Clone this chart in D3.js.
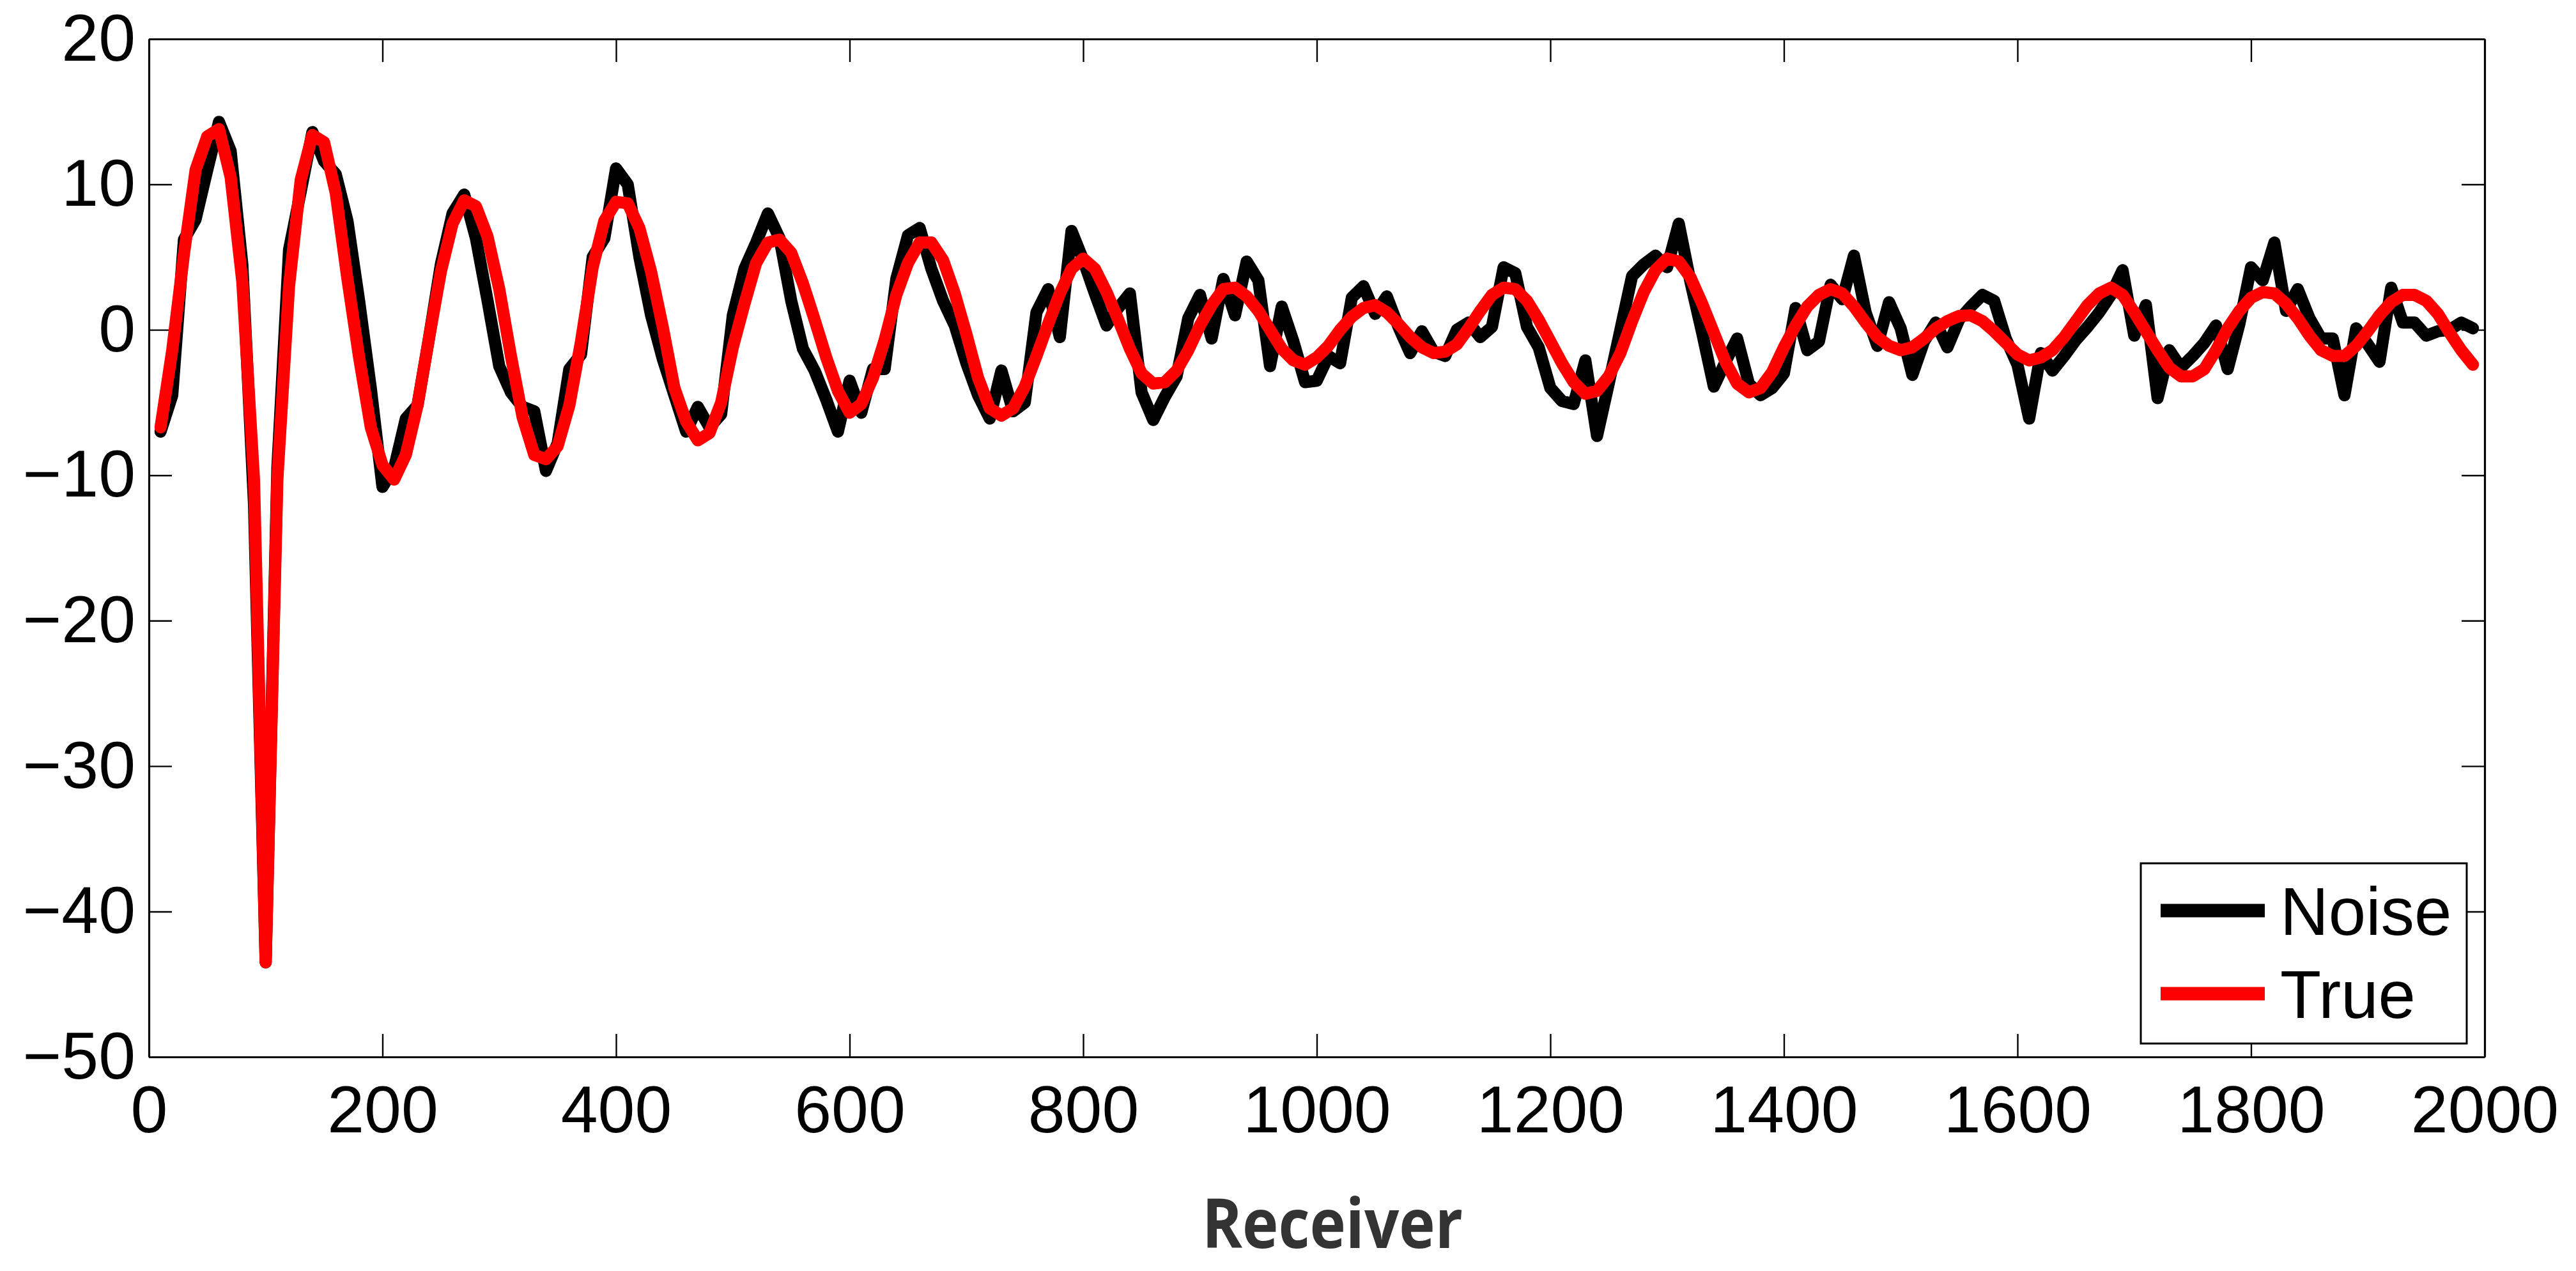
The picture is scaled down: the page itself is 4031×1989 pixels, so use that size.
<!DOCTYPE html>
<html>
<head>
<meta charset="utf-8">
<title>Noise vs True</title>
<script src="https://cdn.jsdelivr.net/npm/d3@7"></script>
<style>
  body { margin: 0; background: #fff; }
  svg { display: block; }
</style>
</head>
<body>
<div id="chart"></div>
<script>
// receiver positions (one sample every 10)
const receivers = [10,20,30,40,50,60,70,80,90,100,110,120,130,140,150,160,170,180,190,200,
  210,220,230,240,250,260,270,280,290,300,310,320,330,340,350,360,370,380,390,400,
  410,420,430,440,450,460,470,480,490,500,510,520,530,540,550,560,570,580,590,600,
  610,620,630,640,650,660,670,680,690,700,710,720,730,740,750,760,770,780,790,800,
  810,820,830,840,850,860,870,880,890,900,910,920,930,940,950,960,970,980,990,1000,
  1010,1020,1030,1040,1050,1060,1070,1080,1090,1100,1110,1120,1130,1140,1150,1160,1170,1180,1190,1200,
  1210,1220,1230,1240,1250,1260,1270,1280,1290,1300,1310,1320,1330,1340,1350,1360,1370,1380,1390,1400,
  1410,1420,1430,1440,1450,1460,1470,1480,1490,1500,1510,1520,1530,1540,1550,1560,1570,1580,1590,1600,
  1610,1620,1630,1640,1650,1660,1670,1680,1690,1700,1710,1720,1730,1740,1750,1760,1770,1780,1790,1800,
  1810,1820,1830,1840,1850,1860,1870,1880,1890,1900,1910,1920,1930,1940,1950,1960,1970,1980,1990];

// true trace
const trueVals = [
  -6.7, -1.4, 5.2, 11.0, 13.3, 13.8, 10.5, 3.3, -10.3, -43.5,
  -10.3, 3.0, 10.3, 13.4, 12.9, 9.4, 3.5, -1.9, -6.7, -9.3,
  -10.3, -8.6, -5.2, -0.5, 4.0, 7.3, 8.9, 8.5, 6.4, 2.8,
  -1.8, -6.0, -8.6, -8.9, -8.0, -5.2, -0.8, 4.3, 7.5, 8.8,
  8.7, 7.0, 4.0, 0.2, -4.0, -6.3, -7.6, -7.1, -5.0, -1.2,
  1.8, 4.6, 6.0, 6.2, 5.3, 3.2, 0.7, -1.9, -4.2, -5.7,
  -5.1, -3.3, -0.7, 2.4, 4.6, 6.0, 6.0, 4.8, 2.5, -0.3,
  -3.3, -5.4, -5.9, -5.4, -3.9, -1.8, 0.4, 2.5, 4.2, 4.9,
  4.2, 2.6, 0.7, -1.3, -3.0, -3.7, -3.6, -2.8, -1.4, 0.3,
  1.7, 2.8, 2.9, 2.3, 1.3, 0.0, -1.3, -2.1, -2.4, -1.9,
  -1.1, 0.0, 0.9, 1.5, 1.7, 1.2, 0.4, -0.5, -1.2, -1.6,
  -1.5, -1.0, 0.1, 1.3, 2.4, 2.9, 2.8, 2.0, 0.7, -0.8,
  -2.3, -3.6, -4.4, -4.2, -3.2, -1.6, 0.6, 2.6, 4.1, 4.9,
  4.7, 3.6, 1.8, -0.2, -2.2, -3.7, -4.3, -4.0, -2.9, -1.2,
  0.3, 1.6, 2.4, 2.8, 2.5, 1.6, 0.5, -0.5, -1.1, -1.4,
  -1.2, -0.6, 0.1, 0.6, 0.95, 1.0, 0.6, -0.1, -0.9, -1.7,
  -2.1, -1.9, -1.4, -0.5, 0.6, 1.7, 2.5, 2.9, 2.4, 1.2,
  -0.1, -1.4, -2.6, -3.2, -3.2, -2.7, -1.4, 0.1, 1.3, 2.2,
  2.6, 2.5, 1.8, 0.8, -0.4, -1.4, -1.8, -1.8, -1.1, -0.1,
  1.0, 1.9, 2.4, 2.4, 2.0, 1.1, -0.2, -1.4, -2.4];

// noisy trace
const noiseVals = [
  -7.0, -4.5, 6.2, 7.6, 11.0, 14.3, 12.3, 4.5, -12.0, -43.5,
  -9.5, 5.5, 9.5, 13.6, 11.6, 10.7, 7.5, 2.0, -4.0, -10.8,
  -9.5, -6.1, -5.2, -0.5, 4.5, 8.0, 9.3, 6.3, 2.0, -2.5,
  -4.3, -5.3, -5.6, -9.7, -7.8, -2.7, -1.7, 5.0, 6.3, 11.1,
  10.0, 5.0, 1.0, -2.0, -4.5, -7.0, -5.3, -6.7, -5.8, 1.0,
  4.2, 6.0, 8.0, 6.3, 2.0, -1.3, -2.8, -4.8, -7.0, -3.5,
  -5.7, -2.7, -2.7, 3.5, 6.5, 7.0, 4.2, 2.0, 0.3, -2.3,
  -4.5, -6.1, -2.8, -5.6, -5.0, 1.2, 2.8, -0.5, 6.8, 4.8,
  2.5, 0.3, 1.5, 2.5, -4.3, -6.2, -4.6, -3.2, 0.8, 2.4,
  -0.6, 3.5, 1.0, 4.7, 3.4, -2.5, 1.6, -0.8, -3.6, -3.5,
  -1.8, -2.3, 2.2, 3.0, 1.1, 2.3, 0.2, -1.6, -0.1, -1.5,
  -1.8, 0.0, 0.5, -0.5, 0.2, 4.3, 3.9, 0.2, -1.2, -4.0,
  -4.9, -5.1, -2.1, -7.3, -3.7, 0.0, 3.7, 4.5, 5.1, 4.3,
  7.3, 3.3, -0.2, -3.9, -2.2, -0.6, -3.7, -4.5, -4.0, -3.0,
  1.5, -1.4, -0.8, 3.1, 2.1, 5.1, 1.2, -1.1, 1.9, 0.1,
  -3.1, -0.8, 0.5, -1.2, 0.7, 1.6, 2.4, 2.0, -0.6, -2.4,
  -6.1, -1.6, -2.8, -1.8, -0.7, 0.2, 1.2, 2.4, 4.1, -0.4,
  1.7, -4.7, -1.4, -2.6, -1.8, -0.9, 0.3, -2.7, 0.4, 4.3,
  3.4, 6.0, 1.3, 2.8, 0.8, -0.6, -0.6, -4.5, 0.1, -1.0,
  -2.2, 2.9, 0.5, 0.5, -0.4, -0.1, 0.0, 0.5, 0.1];

const xTicks = [0, 200, 400, 600, 800, 1000, 1200, 1400, 1600, 1800, 2000];
const yTicks = [-50, -40, -30, -20, -10, 0, 10, 20];
const seriesNames = ["Noise", "True"];
const seriesColors = ["#000000", "#ff0000"];
const xLabel = "Receiver";

// layout
const W = 4031, H = 1989;
const margin = {top: 61, right: 143, bottom: 335, left: 233};
const width = W - margin.left - margin.right;
const height = H - margin.top - margin.bottom;
const tickFont = "'Liberation Sans', Arial, Helvetica, sans-serif";

const svg = d3.select("#chart")
  .append("svg")
    .attr("width", W)
    .attr("height", H);

const g = svg.append("g")
  .attr("transform", "translate(" + margin.left + "," + margin.top + ")");

const x = d3.scaleLinear().domain([0, 2000]).range([0, width]);
const y = d3.scaleLinear().domain([-50, 20]).range([height, 0]);

// axes: inward ticks on all four sides (boxed plot)
function styleAxis(sel) {
  sel.attr("font-family", tickFont).attr("font-size", 104);
  sel.select(".domain").attr("stroke", "#000").attr("stroke-width", 3.2);
  sel.selectAll(".tick line").attr("stroke", "#000").attr("stroke-width", 2.4);
  sel.selectAll(".tick text").attr("fill", "#000");
}

g.append("g")
  .attr("transform", "translate(0," + height + ")")
  .call(d3.axisBottom(x).tickValues(xTicks).tickSize(-36).tickSizeOuter(0)
    .tickPadding(44).tickFormat(d3.format("d")))
  .call(styleAxis);

g.append("g")
  .call(d3.axisTop(x).tickValues(xTicks).tickSize(-36).tickSizeOuter(0).tickFormat(""))
  .call(styleAxis);

g.append("g")
  .call(d3.axisLeft(y).tickValues(yTicks).tickSize(-36).tickSizeOuter(0).tickPadding(21))
  .call(styleAxis);

g.append("g")
  .attr("transform", "translate(" + width + ",0)")
  .call(d3.axisRight(y).tickValues(yTicks).tickSize(-36).tickSizeOuter(0).tickFormat(""))
  .call(styleAxis);

// lines
const series = [noiseVals, trueVals];
const line = d3.line()
  .x((d, i) => x(receivers[i]))
  .y(d => y(d));

g.selectAll(".trace")
  .data(series)
  .enter().append("path")
    .attr("class", "trace")
    .attr("d", d => line(d))
    .attr("fill", "none")
    .attr("stroke", (d, i) => seriesColors[i])
    .attr("stroke-width", 19)
    .attr("stroke-linejoin", "round")
    .attr("stroke-linecap", "round");

// legend
const legW = 510, legH = 282;
const legX = width - 28 - legW, legY = height - 21 - legH;
const leg = g.append("g").attr("transform", "translate(" + legX + "," + legY + ")");
leg.append("rect")
  .attr("width", legW).attr("height", legH)
  .attr("fill", "#fff").attr("stroke", "#000").attr("stroke-width", 3);

seriesNames.forEach((name, i) => {
  const cy = 74 + i * 130;
  leg.append("line")
    .attr("x1", 31).attr("x2", 194)
    .attr("y1", cy).attr("y2", cy)
    .attr("stroke", seriesColors[i]).attr("stroke-width", 21);
  leg.append("text")
    .attr("x", 218).attr("y", cy + 38)
    .attr("font-family", tickFont).attr("font-size", 105)
    .attr("fill", "#000")
    .text(name);
});

// x axis title
svg.append("text")
  .attr("x", 2085).attr("y", 1953)
  .attr("text-anchor", "middle")
  .attr("font-family", "'Open Sans', sans-serif")
  .attr("font-weight", 700)
  .attr("font-size", 108)
  .attr("fill", "#333")
  .attr("textLength", 408)
  .attr("lengthAdjust", "spacingAndGlyphs")
  .text(xLabel);
</script>
</body>
</html>
